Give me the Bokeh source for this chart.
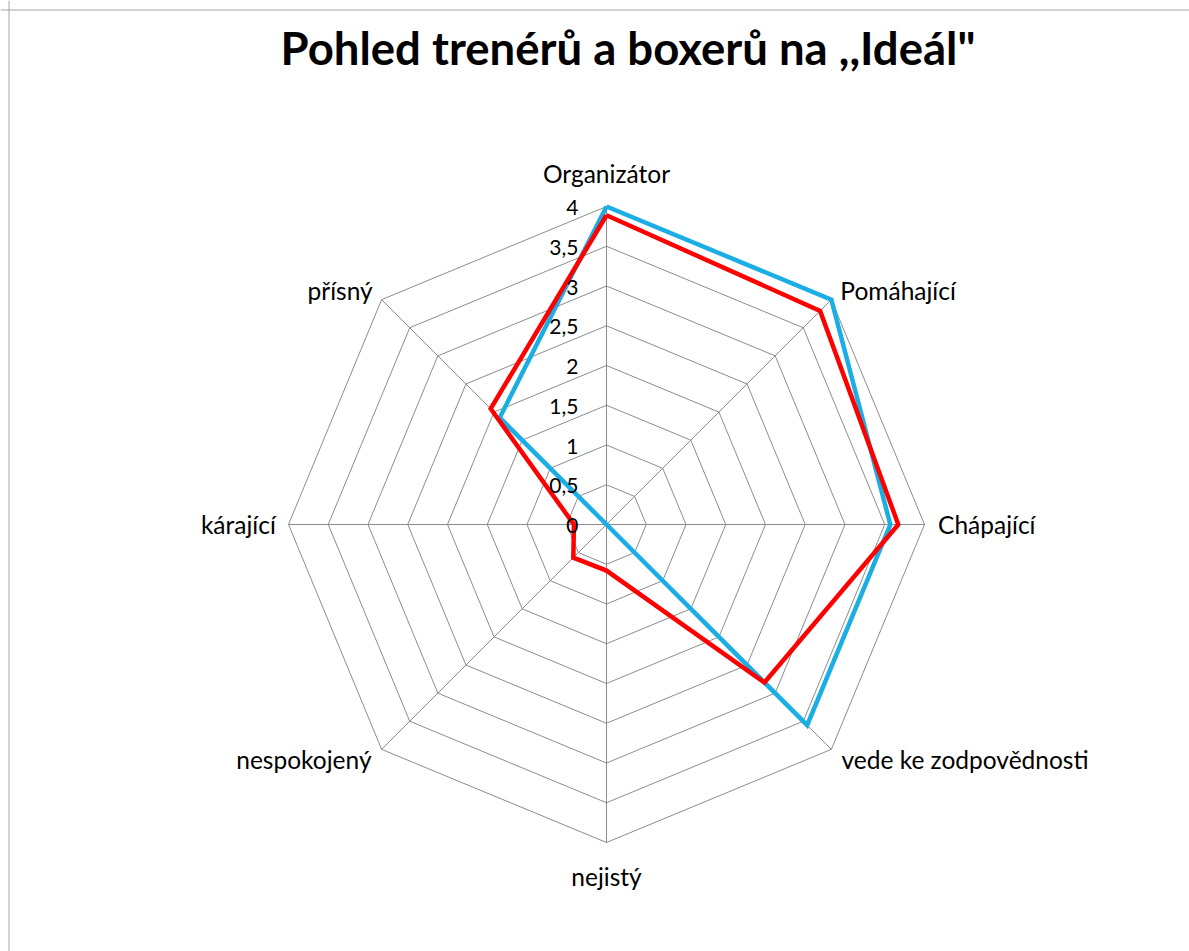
import math
from bokeh.plotting import figure
from bokeh.models import ColumnDataSource, Label, Span
from bokeh.core.properties import value
from bokeh.embed import file_html
from bokeh.resources import INLINE

# ---- data ----
categories = ["Organizátor", "Pomáhající", "Chápající", "vede ke zodpovědnosti",
              "nejistý", "nespokojený", "kárající", "přísný"]
series_blue = [4.0, 4.0, 3.57, 3.57, 0.0, 0.0, 0.0, 1.9]
series_red = [3.89, 3.8, 3.67, 2.81, 0.58, 0.59, 0.41, 2.06]
tick_values = [0, 0.5, 1, 1.5, 2, 2.5, 3, 3.5, 4]
tick_labels = ["0", "0,5", "1", "1,5", "2", "2,5", "3", "3,5", "4"]
title_text = 'Pohled trenérů a boxerů na ,,Ideál"'

# ---- layout ----
W, H = 1189, 951
PX = 79.5              # pixels per unit
cx, cy = 606, 524      # centre in figure pixels (from top-left)
x0 = -cx / PX
x1 = x0 + W / PX
y1 = cy / PX
y0 = y1 - H / PX

FONT = "Lato"
GRID = "#8c8c8c"

p = figure(width=W, height=H, x_range=(x0, x1), y_range=(y0, y1),
           output_backend="svg", toolbar_location=None,
           x_axis_location=None, y_axis_location=None, min_border=0,
           outline_line_color=None, background_fill_color="white",
           border_fill_color="white")
p.grid.visible = False

n = len(categories)
angles = [2 * math.pi * i / n for i in range(n)]

def pt(r, a):
    return r * math.sin(a), r * math.cos(a)

# grid octagons
for lv in tick_values[1:]:
    xs = [pt(lv, a)[0] for a in angles] + [pt(lv, angles[0])[0]]
    ys = [pt(lv, a)[1] for a in angles] + [pt(lv, angles[0])[1]]
    p.line(xs, ys, line_color=GRID, line_width=1)

# spokes
rmax = max(tick_values)
p.segment(x0=[0] * n, y0=[0] * n,
          x1=[pt(rmax, a)[0] for a in angles],
          y1=[pt(rmax, a)[1] for a in angles],
          line_color=GRID, line_width=1)

# series
def poly(vals):
    xs = [pt(v, a)[0] for v, a in zip(vals, angles)]
    ys = [pt(v, a)[1] for v, a in zip(vals, angles)]
    return xs + xs[:1], ys + ys[:1]

bx, by = poly(series_blue)
p.line(bx, by, line_color="#1aaee5", line_width=4.5, line_join="miter")
rx, ry = poly(series_red)
p.line(rx, ry, line_color="#ff0000", line_width=4.5, line_join="miter")

# tick labels
tsrc = ColumnDataSource(dict(x=[0] * len(tick_values), y=tick_values, t=tick_labels))
p.text(x="x", y="y", text="t", source=tsrc, x_offset=-28, y_offset=1,
       text_align="right", text_baseline="middle",
       text_font=value(FONT), text_font_size="21px", text_color="#000000")

# category labels
lab_r = [4.42, 4.16, 4.17, 4.18, 4.43, 4.18, 4.16, 4.16]
aligns = ["center", "left", "left", "left", "center", "right", "right", "right"]
lx, ly, la = [], [], []
for c, a, r, al in zip(categories, angles, lab_r, aligns):
    x, y = pt(r, a)
    lx.append(x); ly.append(y); la.append(al)
csrc = ColumnDataSource(dict(x=lx, y=ly, t=categories, al=la))
p.text(x="x", y="y", text="t", source=csrc, text_align="al",
       text_baseline="middle", text_font=value(FONT),
       text_font_size="24.5px", text_color="#000000")

# title
p.add_layout(Label(x=627.5, y=H - 47, x_units="screen", y_units="screen",
                   text=title_text, text_align="center",
                   text_baseline="alphabetic", text_font=FONT,
                   text_font_style="bold", text_font_size="45.5px",
                   text_color="#000000"))

# chart border (top and left visible)
p.add_layout(Span(location=y1 - 9.5 / PX, dimension="width",
                  line_color="#a6a6a6", line_width=1))
p.add_layout(Span(location=x0 + 8.5 / PX, dimension="height",
                  line_color="#a6a6a6", line_width=1))

open("out.html", "w").write(file_html(p, INLINE))
